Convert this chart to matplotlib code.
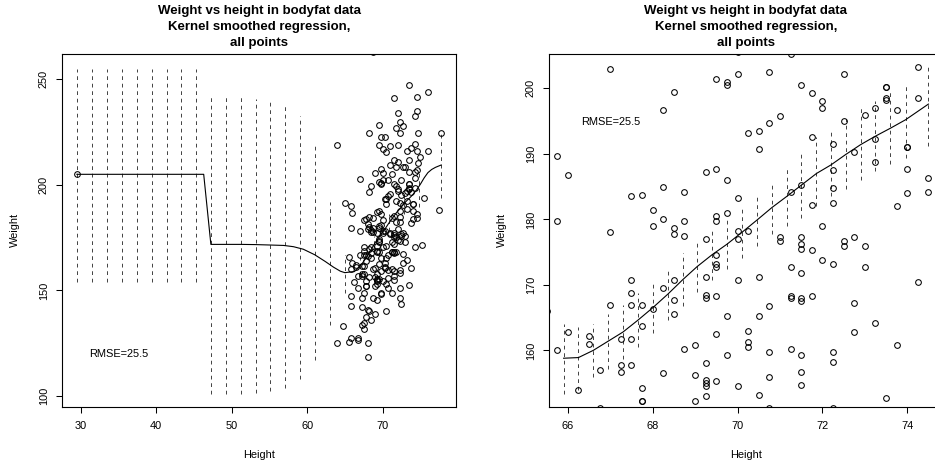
import matplotlib
matplotlib.use('Agg')
import matplotlib.pyplot as plt

plt.rcParams['font.family'] = ['Liberation Sans', 'DejaVu Sans']

# ---------------- data: (height, weight) of the bodyfat points ----------------
heights = [
    67.0, 68.5, 68.25, 65.75, 66.0, 67.5, 67.75, 68.25, 68.75, 68.0, 65.75, 67.0, 68.0, 68.25, 68.75, 68.5, 68.5, 68.75,
    70.0, 71.25, 69.5, 69.75, 69.75, 70.0, 70.75, 72.5, 74.25, 71.5, 71.75, 72.0, 72.0, 73.5, 73.5, 73.5, 73.5, 74.25,
    73.75, 73.25, 73.0, 72.5, 71.0, 70.75, 70.5, 70.25, 70.5, 71.75, 72.25, 72.75, 73.25, 74.0, 74.0, 73.25, 74.0,
    69.25, 69.5, 69.75, 72.25, 72.25, 72.25, 71.5, 71.25, 71.75, 74.5, 74.5, 74.0, 73.75, 70.0, 69.5, 69.5, 69.75, 72.0,
    70.0, 70.25, 70.0, 71.0, 71.0, 71.5, 71.5, 71.5, 71.75, 72.5, 72.5, 72.75, 73.0, 69.25,
    69.5, 69.5, 69.5, 72.0, 72.25, 73.0, 71.25, 71.5, 69.25, 70.0, 70.5, 74.25,
    69.25, 69.25, 69.5, 71.25, 71.25, 71.5, 71.5, 71.75, 72.75, 70.75, 69.75, 70.5, 73.25, 70.25, 69.5, 72.75,
    70.25, 70.25, 71.25, 73.75, 69.75, 70.75, 71.5, 72.25, 72.25, 69.25, 71.5, 70.75, 69.25, 69.25, 69.25, 69.5,
    70.0, 71.5, 69.25, 70.5, 73.5, 70.75, 72.25,
    67.5, 67.5, 67.5, 67.75, 67.0, 68.25, 68.5, 68.5, 68.5, 68.0, 67.75, 66.5, 66.5, 66.0, 65.75, 67.25, 67.5,
    67.25, 67.25, 67.5, 66.75, 66.25, 67.75, 67.75, 67.75, 68.25, 68.75, 69.0, 69.0, 69.0, 66.75, 65.5,
    73.5, 76.0, 71.5, 74.5, 72.0, 74.5, 74.25, 72.25, 72.75, 71.75, 72.25, 69.5, 68.25, 69.75, 70.25, 74.75, 77.75,
    64.0, 69.5, 70.0, 70.5, 71.0, 72.0, 73.25, 73.75, 74.25, 74.5, 76.0, 75.0, 74.75, 73.5, 71.5, 72.0, 72.75, 73.0,
    71.75, 71.0, 69.0, 69.75, 74.5, 73.5, 74.25, 68.75,
    29.5, 65.0, 77.5, 75.5, 75.25,
    65.75, 65.75, 67.25, 67.25, 68.75, 69.25, 67.5, 69.75, 69.75, 71.25, 72.25, 72.5, 70.5, 68.0, 68.25, 69.0,
    67.75, 68.5, 67.5, 67.25, 67.5, 64.75, 64.0, 65.5, 65.75, 66.75, 66.75, 68.0, 68.0,
]
weights = [
    203.0, 199.5, 196.75, 189.75, 186.75, 183.5, 183.75, 185.0, 184.25, 181.5, 179.75, 178.0, 179.0, 180.0, 179.75, 178.75, 177.75, 177.5,
    205.5, 205.25, 201.5, 201.0, 200.5, 202.25, 202.5, 202.25, 203.25, 200.5, 199.25, 198.0, 197.0, 200.25, 200.25, 198.5, 198.25, 198.5,
    196.75, 197.0, 196.0, 195.0, 195.75, 194.75, 193.5, 193.25, 190.75, 192.5, 191.5, 190.25, 192.25, 191.0, 191.0, 188.75, 187.75,
    187.25, 187.75, 186.0, 187.5, 184.75, 182.5, 185.25, 184.25, 182.25, 186.25, 184.25, 184.0, 182.0, 183.25, 180.5, 179.75, 181.0, 179.0,
    178.25, 178.25, 177.0, 177.25, 176.75, 177.25, 176.25, 175.5, 175.25, 176.75, 176.0, 177.25, 176.0, 177.0,
    174.5, 173.25, 172.75, 173.75, 173.25, 172.75, 172.75, 171.75, 171.25, 170.75, 171.25, 170.5,
    168.5, 168.0, 168.25, 168.25, 168.0, 168.0, 167.5, 168.25, 167.25, 166.75, 165.25, 165.25, 164.25, 163.0, 162.5, 162.75,
    161.25, 160.5, 160.25, 160.75, 159.25, 159.75, 159.25, 159.75, 158.25, 158.0, 156.75, 156.0, 155.5, 155.0, 154.5, 155.25,
    154.5, 154.75, 153.0, 153.25, 152.75, 151.25, 151.25,
    170.75, 168.75, 167.0, 167.0, 167.0, 169.5, 170.75, 167.75, 165.5, 166.25, 163.75, 162.25, 161.0, 162.75, 160.0, 161.75, 161.75,
    157.75, 156.75, 157.75, 157.0, 154.0, 154.25, 152.25, 152.25, 156.5, 160.25, 160.75, 156.25, 152.25, 151.25, 166.0,
    247.25, 244.0, 241.25, 241.75, 234.25, 235.0, 232.75, 230.0, 228.0, 226.75, 224.75, 228.25, 224.75, 222.75, 222.75, 224.75, 224.75,
    219.0, 219.0, 217.0, 215.5, 218.5, 219.0, 216.0, 217.25, 219.25, 216.0, 216.0, 213.0, 210.5, 211.75, 212.0, 211.0, 208.5, 208.5,
    208.5, 209.5, 205.75, 207.5, 207.0, 206.25, 206.25, 262.75,
    205.0, 191.5, 188.0, 194.0, 171.5,
    147.5, 142.75, 146.25, 142.0, 146.5, 145.25, 149.0, 149.0, 148.5, 149.0, 146.25, 143.5, 140.25, 140.75, 140.25, 139.0,
    137.25, 136.0, 134.5, 133.75, 131.5, 133.0, 125.0, 125.75, 127.5, 127.5, 126.5, 125.25, 118.5,
]

# ---------------- left panel: smoother over the full range ----------------
curve1_x = [29.5, 46.3, 47.25, 49.25, 51.2, 53.2, 55.1, 56.9, 58.2, 59.5, 61.0, 62.4, 63.5, 64.4, 65.0,
            65.9, 66.25, 66.6, 66.95, 67.3, 67.65, 68.0, 68.36, 68.71, 69.05, 69.4, 69.75, 70.1, 70.46,
            70.81, 71.16, 71.5, 71.86, 72.2, 72.55, 72.9, 73.25, 73.6, 73.96, 74.5, 75.0, 75.5, 76.0,
            76.5, 77.0, 77.75]
curve1_y = [205.0, 205.0, 171.8, 171.8, 171.8, 171.7, 171.5, 171.3, 170.7, 169.5, 166.9, 163.7, 161.0, 159.1, 158.4,
            158.8, 158.9, 160.0, 161.4, 162.8, 164.6, 166.5, 168.6, 170.8, 172.8, 174.6, 176.2, 178.0, 179.9,
            181.8, 183.5, 185.2, 187.0, 188.3, 189.9, 191.4, 192.7, 193.9, 195.2, 197.6, 200.3, 203.3, 205.8,
            207.3, 208.3, 209.4]
band1_x = [29.5, 31.5, 33.5, 35.45, 37.45, 39.4, 41.4, 43.35, 45.3, 47.25, 49.25, 51.2, 53.2, 55.1, 57.1,
           59.05, 61.0, 63.0, 65.0, 66.95, 68.9, 70.9, 72.85, 74.8, 77.75]
band1_lo = [154.2, 154.2, 154.2, 154.2, 154.2, 154.2, 154.2, 154.2, 154.2, 101.1, 101.1, 101.1, 101.6, 102.5, 103.9,
            108.0, 117.0, 133.6, 148.6, 157.2, 168.0, 178.0, 186.0, 189.5, 193.8]
band1_hi = [254.9, 254.9, 254.9, 254.9, 254.9, 254.9, 254.9, 254.9, 254.9, 242.6, 242.6, 242.6, 240.7, 240.7, 237.4,
            232.6, 218.6, 192.0, 166.8, 165.6, 176.0, 186.3, 196.8, 207.5, 224.0]

# ---------------- right panel: smoother over the central range ----------------
band2_x = [65.9, 66.25, 66.6, 66.95, 67.3, 67.65, 68.0, 68.36, 68.71, 69.05, 69.4, 69.75, 70.1, 70.46, 70.81,
           71.16, 71.5, 71.86, 72.2, 72.55, 72.9, 73.25, 73.6, 73.96, 74.5]
band2_lo = [153.4, 154.0, 156.0, 157.2, 158.7, 160.5, 162.6, 164.7, 166.7, 168.9, 170.8, 172.4, 174.1, 176.0, 177.8,
            179.0, 180.2, 182.0, 183.5, 184.6, 186.0, 187.4, 188.4, 189.3, 191.2]
band2_hi = [164.0, 163.6, 164.0, 165.6, 166.9, 168.8, 170.5, 172.6, 174.8, 176.8, 178.7, 180.0, 182.0, 183.8, 185.7,
            187.9, 190.2, 192.5, 193.7, 195.3, 197.0, 198.1, 199.4, 200.8, 203.2]
curve2_x = band2_x
curve2_y = [158.8, 158.9, 160.0, 161.4, 162.8, 164.6, 166.5, 168.6, 170.8, 172.8, 174.6, 176.2, 178.0, 179.9, 181.8,
            183.5, 185.2, 187.0, 188.3, 189.9, 191.4, 192.7, 193.9, 195.2, 197.6]

rmse_label = "RMSE=25.5"
title_lines = ["Weight vs height in bodyfat data", "Kernel smoothed regression,", "all points"]
ticks1_x = [30, 40, 50, 60, 70]
ticks1_y = [100, 150, 200, 250]
ticks2_x = [66, 68, 70, 72, 74]
ticks2_y = [160, 170, 180, 190, 200]

# ---------------- figure ----------------
W, H = 935, 466
fig = plt.figure(figsize=(W / 100, H / 100), dpi=100)


def px_axes(l, t, r, b):
    return fig.add_axes([l / W, 1 - b / H, (r - l) / W, (b - t) / H])


ax1 = px_axes(62.3, 54.0, 455.7, 406.7)
ax2 = px_axes(549.0, 54.3, 943.0, 406.7)

FS = 7.9


def draw(ax, cx, cy, bx, blo, bhi, xlim, ylim, xt, yt, txt_xy):
    ax.vlines(bx, blo, bhi, colors='#222222', linestyles=(0, (4.5, 4.5)), lw=0.6)
    ax.plot(cx, cy, '-', color='black', lw=0.8)
    ax.plot(heights, weights, 'o', mfc='none', mec='black', ms=4.1, mew=0.75)
    ax.text(txt_xy[0], txt_xy[1], rmse_label, ha='center', va='center', fontsize=FS)
    ax.set_xlim(*xlim)
    ax.set_ylim(*ylim)
    ax.set_xticks(xt)
    ax.set_yticks(yt)
    ax.set_xticklabels([str(v) for v in xt])
    ax.set_yticklabels([str(v) for v in yt])
    ax.tick_params(axis='both', direction='out', length=4.6, width=0.75, labelsize=FS, colors='black')
    ax.tick_params(axis='x', pad=6.0)
    ax.tick_params(axis='y', pad=5.0, labelrotation=90)
    for lbl in ax.get_yticklabels():
        lbl.set_va('center')
    for s in ax.spines.values():
        s.set_linewidth(0.8)
        s.set_color('black')


draw(ax1, curve1_x, curve1_y, band1_x, band1_lo, band1_hi,
     (27.57, 79.68), (94.9, 262.0), ticks1_x, ticks1_y, (35.0, 120.0))
draw(ax2, curve2_x, curve2_y, band2_x, band2_lo, band2_hi,
     (65.556, 74.844), (151.4, 205.2), ticks2_x, ticks2_y, (67.0, 194.9))

# titles and axis labels (pixel placement)
for cx_px in (259.0, 746.0):
    for i, line in enumerate(title_lines):
        fig.text(cx_px / W, 1 - (10.7 + 16.3 * i) / H, line, ha='center', va='center',
                 fontsize=9.5, fontweight='bold')
    fig.text(cx_px / W, 1 - 455.0 / H, "Height", ha='center', va='center', fontsize=FS)
for xl_px in (15.0, 501.7):
    fig.text(xl_px / W, 1 - 230.4 / H, "Weight", ha='center', va='center', rotation=90, fontsize=FS)

fig.savefig('out.png', dpi=100)
